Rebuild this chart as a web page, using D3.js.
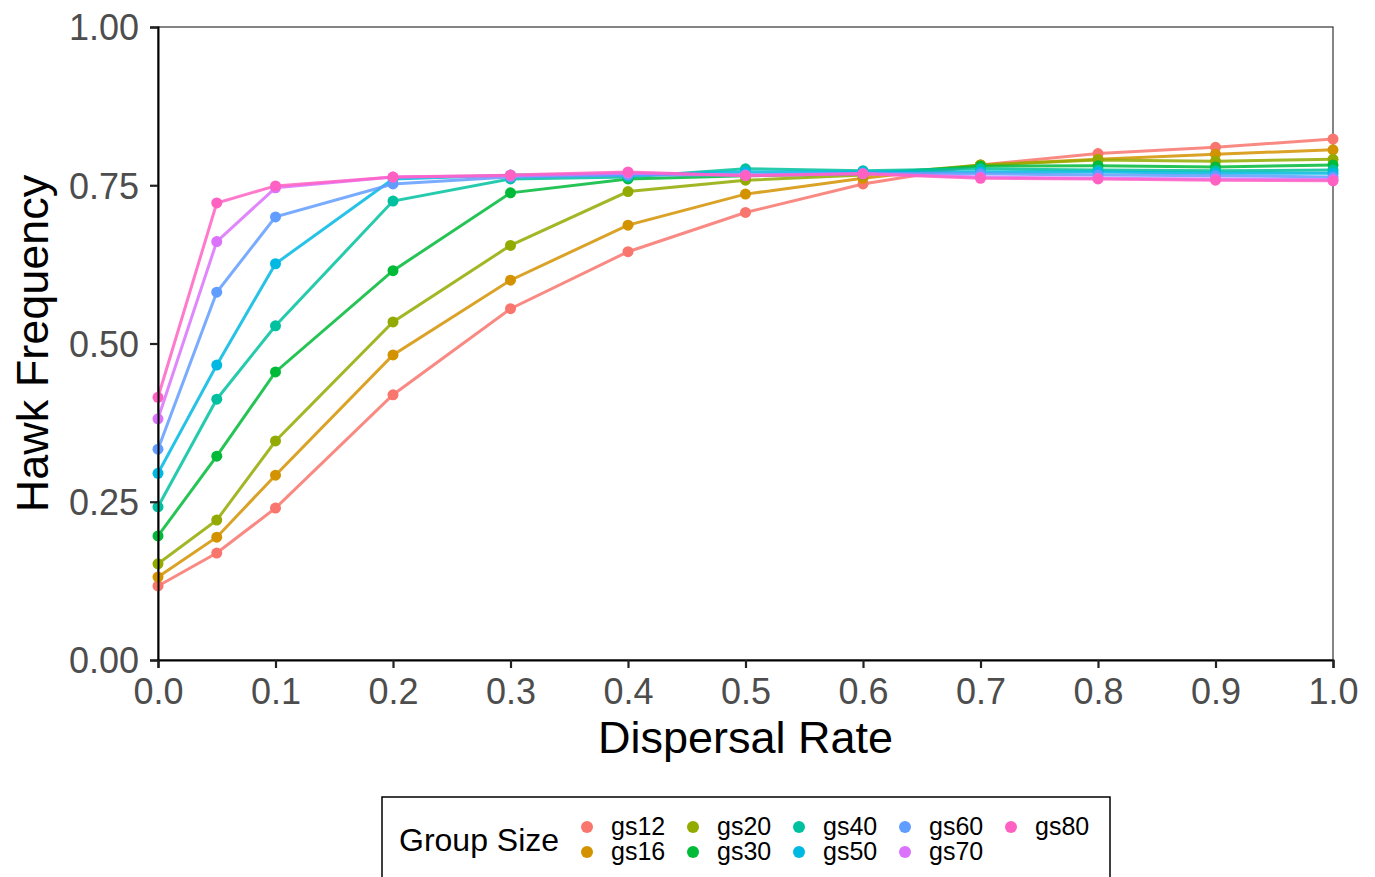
<!DOCTYPE html>
<html>
<head>
<meta charset="utf-8">
<script src="https://cdn.jsdelivr.net/npm/d3@7"></script>
<style>
  body { margin: 0; background: #fff; }
  svg text { font-family: "Liberation Sans", Arial, Helvetica, sans-serif; }
</style>
</head>
<body>
<svg id="chart" width="1375" height="877"></svg>
<script>
// dispersal rates on the x axis
var rates = [0, 0.05, 0.1, 0.2, 0.3, 0.4, 0.5, 0.6, 0.7, 0.8, 0.9, 1.0];

// group sizes and their colours (ggplot hue palette)
var groups = ["gs12", "gs16", "gs20", "gs30", "gs40", "gs50", "gs60", "gs70", "gs80"];
var colors = ["#F8766D", "#D39200", "#93AA00", "#00BA38", "#00C19F", "#00B9E3", "#619CFF", "#DB72FB", "#FF61C3"];

// hawk frequency per group, one value per dispersal rate
var gs12 = [0.117, 0.169, 0.240, 0.419, 0.555, 0.645, 0.707, 0.752, 0.782, 0.800, 0.810, 0.823];
var gs16 = [0.131, 0.194, 0.292, 0.482, 0.600, 0.687, 0.736, 0.761, 0.782, 0.791, 0.799, 0.806];
var gs20 = [0.152, 0.221, 0.346, 0.534, 0.655, 0.740, 0.758, 0.766, 0.782, 0.790, 0.788, 0.791];
var gs30 = [0.196, 0.322, 0.455, 0.615, 0.738, 0.760, 0.765, 0.768, 0.780, 0.781, 0.779, 0.782];
var gs40 = [0.242, 0.412, 0.528, 0.725, 0.760, 0.763, 0.776, 0.773, 0.776, 0.774, 0.773, 0.774];
var gs50 = [0.295, 0.466, 0.626, 0.760, 0.766, 0.766, 0.771, 0.771, 0.771, 0.771, 0.769, 0.769];
var gs60 = [0.333, 0.581, 0.700, 0.752, 0.763, 0.766, 0.766, 0.769, 0.768, 0.766, 0.765, 0.763];
var gs70 = [0.381, 0.661, 0.746, 0.763, 0.765, 0.769, 0.766, 0.768, 0.763, 0.761, 0.760, 0.759];
var gs80 = [0.415, 0.722, 0.749, 0.763, 0.766, 0.771, 0.765, 0.768, 0.761, 0.760, 0.758, 0.757];
var values = [gs12, gs16, gs20, gs30, gs40, gs50, gs60, gs70, gs80];

var yTicks = [0, 0.25, 0.5, 0.75, 1.0];
var xTicks = [0, 0.1, 0.2, 0.3, 0.4, 0.5, 0.6, 0.7, 0.8, 0.9, 1.0];

var pLeft = 158, pRight = 1333, pTop = 27, pBottom = 660;

var svg = d3.select("#chart");

var x = d3.scaleLinear().domain([0, 1]).range([pLeft, pRight]);
var y = d3.scaleLinear().domain([0, 1]).range([pBottom, pTop]);
var color = d3.scaleOrdinal().domain(groups).range(colors);

var series = groups.map(function (g, i) {
    return { name: g, points: rates.map(function (r, j) { return { x: r, y: values[i][j] }; }) };
});

// panel border
svg.append("rect")
    .attr("x", pLeft).attr("y", pTop)
    .attr("width", pRight - pLeft).attr("height", pBottom - pTop)
    .attr("fill", "none").attr("stroke", "#333").attr("stroke-width", 1.2);

var line = d3.line().x(function (d) { return x(d.x); }).y(function (d) { return y(d.y); });

var g = svg.selectAll(".series")
    .data(series)
    .enter()
    .append("g")
    .attr("class", "series");

g.append("path")
    .attr("d", function (d) { return line(d.points); })
    .attr("fill", "none")
    .attr("stroke", function (d) { return color(d.name); })
    .attr("stroke-width", 3)
    .attr("stroke-opacity", 0.85);

g.selectAll("circle")
    .data(function (d) { return d.points.map(function (p) { return { x: p.x, y: p.y, name: d.name }; }); })
    .enter()
    .append("circle")
    .attr("cx", function (d) { return x(d.x); })
    .attr("cy", function (d) { return y(d.y); })
    .attr("r", 5.5)
    .attr("fill", function (d) { return color(d.name); });

// axes
var yAxis = svg.append("g")
    .attr("transform", "translate(" + pLeft + ",0)")
    .call(d3.axisLeft(y).tickValues(yTicks).tickFormat(d3.format(".2f")).tickSize(8).tickPadding(11));
var xAxis = svg.append("g")
    .attr("transform", "translate(0," + pBottom + ")")
    .call(d3.axisBottom(x).tickValues(xTicks).tickFormat(d3.format(".1f")).tickSize(8).tickPadding(9));

[yAxis, xAxis].forEach(function (a) {
    a.select(".domain").attr("stroke", "#000").attr("stroke-width", 2);
    a.selectAll(".tick line").attr("stroke", "#222").attr("stroke-width", 2.2);
    a.selectAll(".tick text").attr("fill", "#4D4D4D").style("font-size", "36px");
});
xAxis.selectAll(".tick text").attr("dy", "0.75em");
yAxis.selectAll(".tick text").attr("dy", "0.36em");

// axis titles
svg.append("text")
    .attr("x", (pLeft + pRight) / 2)
    .attr("y", 753)
    .attr("text-anchor", "middle")
    .style("font-size", "45px")
    .text("Dispersal Rate");

svg.append("text")
    .attr("transform", "translate(48," + (pTop + pBottom) / 2 + ") rotate(-90)")
    .attr("text-anchor", "middle")
    .style("font-size", "45px")
    .text("Hawk Frequency");

// legend
var legend = svg.append("g");
legend.append("rect")
    .attr("x", 382).attr("y", 797)
    .attr("width", 728).attr("height", 110)
    .attr("fill", "#fff").attr("stroke", "#000").attr("stroke-width", 1.5);

legend.append("text")
    .attr("x", 399).attr("y", 851)
    .style("font-size", "32px")
    .text("Group Size");

var key = legend.selectAll(".key")
    .data(groups)
    .enter()
    .append("g")
    .attr("class", "key")
    .attr("transform", function (d, i) {
        return "translate(" + (587 + Math.floor(i / 2) * 106) + "," + (827 + (i % 2) * 25) + ")";
    });

key.append("circle")
    .attr("r", 6)
    .attr("fill", function (d) { return color(d); });

key.append("text")
    .attr("x", 24)
    .attr("y", 8)
    .style("font-size", "25px")
    .text(function (d) { return d; });
</script>
</body>
</html>
